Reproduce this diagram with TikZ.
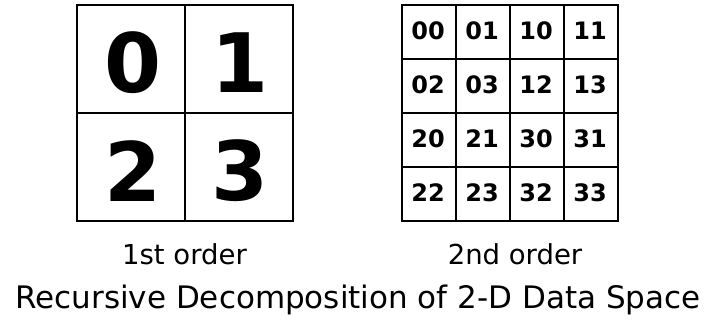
\documentclass[tikz,border=0pt]{standalone}
\usepackage{fontspec}
\setmainfont{DejaVu Sans}
\begin{document}
\begin{tikzpicture}[x=1pt,y=-1pt,
  gridline/.style={line width=2pt,line cap=rect},
  bigdigit/.style={inner sep=0pt,font=\fontsize{82}{82}\selectfont\bfseries},
  smalldigit/.style={inner sep=0pt,font=\fontsize{24}{24}\selectfont\bfseries},
  caption/.style={inner sep=0pt,anchor=base,font=\fontsize{27.5}{27.5}\selectfont},
  titletext/.style={inner sep=0pt,anchor=base,font=\fontsize{31}{31}\selectfont}]
\useasboundingbox[fill=white] (0,0) rectangle (712,320);
% first order grid
\draw[gridline] (77,5) rectangle (293,221);
\draw[gridline] (185,5) -- (185,221);
\draw[gridline] (77,113) -- (293,113);
\node[bigdigit] (q0) at (133,63) {0};
\node[bigdigit] (q1) at (240,63) {1};
\node[bigdigit] (q2) at (133,171) {2};
\node[bigdigit] (q3) at (240,171) {3};
% second order grid
\draw[gridline] (402,5) rectangle (618,221);
\foreach \xx in {456,510,564} \draw[gridline] (\xx,5) -- (\xx,221);
\foreach \yy in {59,113,167} \draw[gridline] (402,\yy) -- (618,\yy);
\foreach \lab [count=\i from 0] in {00,01,10,11,02,03,12,13,20,21,30,31,22,23,32,33} {
  \pgfmathtruncatemacro{\col}{mod(\i,4)}
  \pgfmathtruncatemacro{\row}{div(\i,4)}
  \node[smalldigit] (s\lab) at ({428+54*\col},{31+54*\row}) {\lab};
}
\node[caption] (c1) at (184.5,265) {1st order};
\node[caption] (c2) at (515,265) {2nd order};
\node[titletext] (title) at (358,308.3) {Recursive Decomposition of 2-D Data Space};
\end{tikzpicture}
\end{document}
